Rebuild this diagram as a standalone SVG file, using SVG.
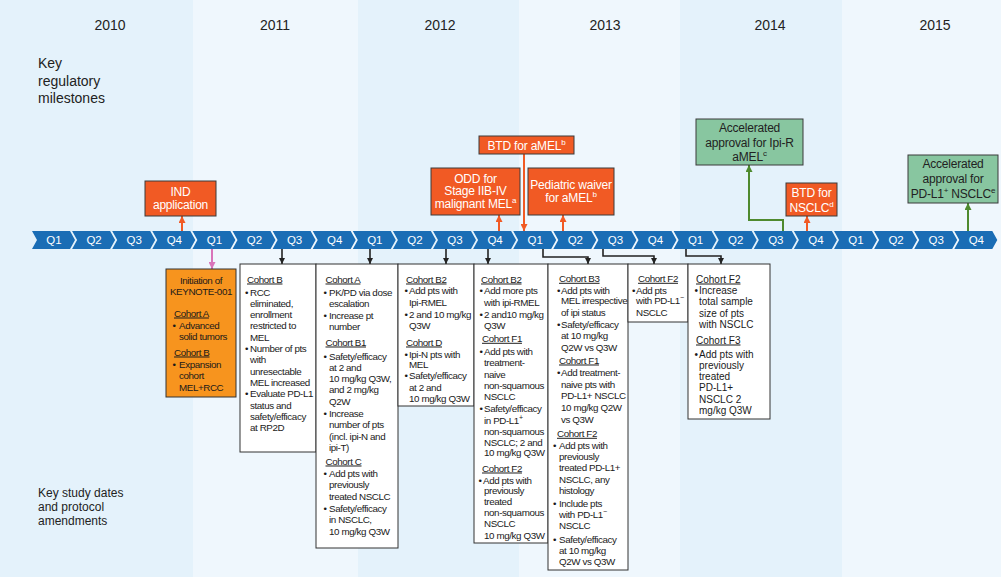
<svg xmlns="http://www.w3.org/2000/svg" width="1001" height="577" viewBox="0 0 1001 577">
<style>
.yr{font-family:"Liberation Sans",Arial,sans-serif;font-size:14px;fill:#222;text-anchor:middle}
.lbl{font-family:"Liberation Sans",Arial,sans-serif;fill:#222}
.q{font-family:"Liberation Sans",Arial,sans-serif;font-size:11.5px;fill:#fff;text-anchor:middle}
.t{font-family:"Liberation Sans",Arial,sans-serif;font-size:9.8px;letter-spacing:-0.4px;fill:#1a1a1a}
.t2{font-family:"Liberation Sans",Arial,sans-serif;font-size:10px;fill:#1a1a1a}
.u{text-decoration:underline}
.c{text-anchor:middle}
.box{fill:#fff;stroke:#333;stroke-width:1}
.ms{fill:#f15a24;stroke:#3a3a3a;stroke-width:1}
.gr{fill:#88c6a0;stroke:#3a3a3a;stroke-width:1}
.mt{font-family:"Liberation Sans",Arial,sans-serif;font-size:12px;letter-spacing:-0.2px;fill:#fff;text-anchor:middle}
.gt{font-family:"Liberation Sans",Arial,sans-serif;font-size:12px;letter-spacing:-0.2px;fill:#222;text-anchor:middle}
.chev{fill:#1a6db5}
.lo{stroke:#f15a24;stroke-width:2;fill:none}
.lg{stroke:#4e8a2e;stroke-width:2;fill:none}
.lk{stroke:#222;stroke-width:1.6;fill:none}
.lp{stroke:#d974b9;stroke-width:2;fill:none}
</style>
<defs>
<polygon id="chv" class="chev" points="0,0 38,0 43,9 38,18 0,18 5,9"/>
<marker id="mo" viewBox="0 0 10 10" refX="10" refY="5" markerWidth="7" markerHeight="7" markerUnits="userSpaceOnUse" orient="auto"><path d="M0,0 L10,5 L0,10 z" fill="#f15a24"/></marker>
<marker id="mg" viewBox="0 0 10 10" refX="10" refY="5" markerWidth="7" markerHeight="7" markerUnits="userSpaceOnUse" orient="auto"><path d="M0,0 L10,5 L0,10 z" fill="#4e8a2e"/></marker>
<marker id="mk" viewBox="0 0 10 10" refX="10" refY="5" markerWidth="6" markerHeight="6" markerUnits="userSpaceOnUse" orient="auto"><path d="M0,0 L10,5 L0,10 z" fill="#222"/></marker>
<marker id="mp" viewBox="0 0 10 10" refX="10" refY="5" markerWidth="7" markerHeight="7" markerUnits="userSpaceOnUse" orient="auto"><path d="M0,0 L10,5 L0,10 z" fill="#d974b9"/></marker>
</defs>

<g id="background">
<rect x="0" y="0" width="193" height="577" fill="#e4f2fb"/>
<rect x="193" y="0" width="165" height="577" fill="#eff7fd"/>
<rect x="358" y="0" width="161" height="577" fill="#e4f2fb"/>
<rect x="519" y="0" width="161" height="577" fill="#eff7fd"/>
<rect x="680" y="0" width="162" height="577" fill="#e4f2fb"/>
<rect x="842" y="0" width="159" height="577" fill="#eff7fd"/>
</g>

<g id="years">
<text class="yr" x="110" y="30">2010</text>
<text class="yr" x="275" y="30">2011</text>
<text class="yr" x="440" y="30">2012</text>
<text class="yr" x="605" y="30">2013</text>
<text class="yr" x="770" y="30">2014</text>
<text class="yr" x="935" y="30">2015</text>
</g>

<g id="side-labels">
<text class="lbl" font-size="14"><tspan x="38" y="68">Key</tspan><tspan x="38" y="86">regulatory</tspan><tspan x="38" y="103">milestones</tspan></text>
<text class="lbl" font-size="12"><tspan x="38" y="497">Key study dates</tspan><tspan x="38" y="511">and protocol</tspan><tspan x="38" y="525">amendments</tspan></text>
</g>

<g id="timeline">
<use href="#chv" x="32" y="231"/><use href="#chv" x="72.1" y="231"/><use href="#chv" x="112.2" y="231"/><use href="#chv" x="152.3" y="231"/>
<use href="#chv" x="192.4" y="231"/><use href="#chv" x="232.5" y="231"/><use href="#chv" x="272.6" y="231"/><use href="#chv" x="312.7" y="231"/>
<use href="#chv" x="352.8" y="231"/><use href="#chv" x="392.9" y="231"/><use href="#chv" x="433" y="231"/><use href="#chv" x="473.1" y="231"/>
<use href="#chv" x="513.2" y="231"/><use href="#chv" x="553.3" y="231"/><use href="#chv" x="593.4" y="231"/><use href="#chv" x="633.5" y="231"/>
<use href="#chv" x="673.6" y="231"/><use href="#chv" x="713.7" y="231"/><use href="#chv" x="753.8" y="231"/><use href="#chv" x="793.9" y="231"/>
<use href="#chv" x="834" y="231"/><use href="#chv" x="874.1" y="231"/><use href="#chv" x="914.2" y="231"/><use href="#chv" x="954.3" y="231"/>
<text class="q" x="54" y="244">Q1</text><text class="q" x="94.1" y="244">Q2</text><text class="q" x="134.2" y="244">Q3</text><text class="q" x="174.3" y="244">Q4</text>
<text class="q" x="214.4" y="244">Q1</text><text class="q" x="254.5" y="244">Q2</text><text class="q" x="294.6" y="244">Q3</text><text class="q" x="334.7" y="244">Q4</text>
<text class="q" x="374.8" y="244">Q1</text><text class="q" x="414.9" y="244">Q2</text><text class="q" x="455" y="244">Q3</text><text class="q" x="495.1" y="244">Q4</text>
<text class="q" x="535.2" y="244">Q1</text><text class="q" x="575.3" y="244">Q2</text><text class="q" x="615.4" y="244">Q3</text><text class="q" x="655.5" y="244">Q4</text>
<text class="q" x="695.6" y="244">Q1</text><text class="q" x="735.7" y="244">Q2</text><text class="q" x="775.8" y="244">Q3</text><text class="q" x="815.9" y="244">Q4</text>
<text class="q" x="856" y="244">Q1</text><text class="q" x="896.1" y="244">Q2</text><text class="q" x="936.2" y="244">Q3</text><text class="q" x="976.3" y="244">Q4</text>
</g>

<g id="connectors">
<path class="lo" d="M182,231 V216" marker-end="url(#mo)"/>
<path class="lo" d="M499,231 V215" marker-end="url(#mo)"/>
<path class="lo" d="M524,154 V231" marker-end="url(#mo)"/>
<path class="lo" d="M563,231 V215" marker-end="url(#mo)"/>
<path class="lo" d="M807,231 V216" marker-end="url(#mo)"/>
<path class="lg" d="M783,231 V220 H749 V165" marker-end="url(#mg)"/>
<path class="lg" d="M968,231 V203" marker-end="url(#mg)"/>
<path class="lp" d="M212,249 V269" marker-end="url(#mp)"/>
<path class="lk" d="M282,249 V264" marker-end="url(#mk)"/>
<path class="lk" d="M370,249 V264" marker-end="url(#mk)"/>
<path class="lk" d="M446,249 V264" marker-end="url(#mk)"/>
<path class="lk" d="M488,249 V264" marker-end="url(#mk)"/>
<path class="lk" d="M543,249 V257 H588 V264" marker-end="url(#mk)"/>
<path class="lk" d="M603,249 V256 H654 V264" marker-end="url(#mk)"/>
<path class="lk" d="M686,249 V256 H721 V264" marker-end="url(#mk)"/>
</g>

<g id="m-ind">
<rect class="ms" x="145" y="181" width="71" height="35"/>
<text class="mt"><tspan x="180.5" y="195.5">IND</tspan><tspan x="180.5" y="208.5">application</tspan></text>
</g>
<g id="m-odd">
<rect class="ms" x="431" y="168" width="89" height="47"/>
<text class="mt"><tspan x="475.5" y="182.5">ODD for</tspan><tspan x="475.5" y="195">Stage IIB-IV</tspan><tspan x="475.5" y="207.5">malignant MEL<tspan font-size="8" dy="-5">a</tspan></tspan></text>
</g>
<g id="m-btd-amel">
<rect class="ms" x="479" y="136" width="95" height="18"/>
<text class="mt"><tspan x="526.5" y="149.5">BTD for aMEL<tspan font-size="8" dy="-5">b</tspan></tspan></text>
</g>
<g id="m-pediatric">
<rect class="ms" x="528" y="168" width="86" height="47"/>
<text class="mt"><tspan x="571" y="188.5">Pediatric waiver</tspan><tspan x="571" y="201.5">for aMEL<tspan font-size="8" dy="-5">b</tspan></tspan></text>
</g>
<g id="m-aa-ipir">
<rect class="gr" x="696" y="119" width="107" height="46"/>
<text class="gt"><tspan x="749.5" y="131.5">Accelerated</tspan><tspan x="749.5" y="146.5">approval for Ipi-R</tspan><tspan x="749.5" y="161">aMEL<tspan font-size="8" dy="-5">c</tspan></tspan></text>
</g>
<g id="m-btd-nsclc">
<rect class="ms" x="786" y="183" width="51" height="33"/>
<text class="mt"><tspan x="811.5" y="196.5">BTD for</tspan><tspan x="811.5" y="211.5">NSCLC<tspan font-size="8" dy="-5">d</tspan></tspan></text>
</g>
<g id="m-aa-pdl1">
<rect class="gr" x="908" y="155" width="90" height="48"/>
<text class="gt"><tspan x="953" y="167.5">Accelerated</tspan><tspan x="953" y="182.5">approval for</tspan><tspan x="953" y="197.5">PD-L1<tspan font-size="8" dy="-5">+</tspan><tspan dy="5"> NSCLC</tspan><tspan font-size="8" dy="-5">e</tspan></tspan></text>
</g>

<g id="keynote">
<rect x="166" y="269" width="70" height="128" fill="#f7941e" stroke="#333"/>
<text class="t c"><tspan x="201" y="283.5">Initiation of</tspan><tspan x="201" y="294.8">KEYNOTE-001</tspan></text>
<text class="t u"><tspan x="174" y="316.5">Cohort A</tspan><tspan x="174" y="355.5">Cohort B</tspan></text>
<text class="t"><tspan x="172.5" y="328.5">•</tspan><tspan x="172.5" y="367.5">•</tspan></text>
<text class="t"><tspan x="179" y="328.5">Advanced</tspan><tspan x="179" y="340.3">solid tumors</tspan><tspan x="179" y="367.5">Expansion</tspan><tspan x="179" y="379">cohort</tspan><tspan x="179" y="390.5">MEL+RCC</tspan></text>
</g>

<g id="box-2011q3">
<rect class="box" x="240" y="264" width="76" height="188"/>
<text class="t u" x="247" y="282.5">Cohort B</text>
<text class="t"><tspan x="245" y="295.5">•</tspan><tspan x="245" y="352">•</tspan><tspan x="245" y="397.2">•</tspan></text>
<text class="t"><tspan x="250" y="295.5">RCC</tspan><tspan x="250" y="306.8">eliminated,</tspan><tspan x="250" y="318.1">enrollment</tspan><tspan x="250" y="329.4">restricted to</tspan><tspan x="250" y="340.7">MEL</tspan><tspan x="250" y="352">Number of pts</tspan><tspan x="250" y="363.3">with</tspan><tspan x="250" y="374.6">unresectable</tspan><tspan x="250" y="385.9">MEL increased</tspan><tspan x="250" y="397.2">Evaluate PD-L1</tspan><tspan x="250" y="408.5">status and</tspan><tspan x="250" y="419.8">safety/efficacy</tspan><tspan x="250" y="431.1">at RP2D</tspan></text>
</g>

<g id="box-2012q1">
<rect class="box" x="316" y="264" width="82" height="284"/>
<text class="t u"><tspan x="325.5" y="282.5">Cohort A</tspan><tspan x="325.5" y="345.5">Cohort B1</tspan><tspan x="325.5" y="464.5">Cohort C</tspan></text>
<text class="t"><tspan x="323.5" y="296">•</tspan><tspan x="323.5" y="319">•</tspan><tspan x="323.5" y="359.5">•</tspan><tspan x="323.5" y="417">•</tspan><tspan x="323.5" y="477">•</tspan><tspan x="323.5" y="512">•</tspan></text>
<text class="t"><tspan x="329" y="296">PK/PD via dose</tspan><tspan x="329" y="307.3">escalation</tspan><tspan x="329" y="319">Increase pt</tspan><tspan x="329" y="330.3">number</tspan><tspan x="329" y="359.5">Safety/efficacy</tspan><tspan x="329" y="370.8">at 2 and</tspan><tspan x="329" y="382.1">10 mg/kg Q3W,</tspan><tspan x="329" y="393.4">and 2 mg/kg</tspan><tspan x="329" y="404.7">Q2W</tspan><tspan x="329" y="417">Increase</tspan><tspan x="329" y="428.3">number of pts</tspan><tspan x="329" y="439.6">(incl. ipi-N and</tspan><tspan x="329" y="450.9">ipi-T)</tspan><tspan x="329" y="477">Add pts with</tspan><tspan x="329" y="488.3">previously</tspan><tspan x="329" y="499.6">treated NSCLC</tspan><tspan x="329" y="512">Safety/efficacy</tspan><tspan x="329" y="523.3">in NSCLC,</tspan><tspan x="329" y="534.6">10 mg/kg Q3W</tspan></text>
</g>

<g id="box-2012q3">
<rect class="box" x="398" y="264" width="76" height="142"/>
<text class="t u"><tspan x="406" y="282.5">Cohort B2</tspan><tspan x="406" y="345.5">Cohort D</tspan></text>
<text class="t"><tspan x="404.5" y="294.2">•</tspan><tspan x="404.5" y="317.5">•</tspan><tspan x="404.5" y="357.5">•</tspan><tspan x="404.5" y="378.5">•</tspan></text>
<text class="t"><tspan x="409" y="294.2">Add pts with</tspan><tspan x="409" y="305.5">Ipi-RMEL</tspan><tspan x="409" y="317.5">2 and 10 mg/kg</tspan><tspan x="409" y="328.5">Q3W</tspan><tspan x="409" y="357.5">Ipi-N pts with</tspan><tspan x="409" y="368">MEL</tspan><tspan x="409" y="378.5">Safety/efficacy</tspan><tspan x="409" y="390.5">at 2 and</tspan><tspan x="409" y="401.5">10 mg/kg Q3W</tspan></text>
</g>

<g id="box-2012q4">
<rect class="box" x="474" y="264" width="74" height="279"/>
<text class="t u"><tspan x="481" y="282.5">Cohort B2</tspan><tspan x="482" y="341.8">Cohort F1</tspan><tspan x="482" y="471.5">Cohort F2</tspan></text>
<text class="t"><tspan x="479.5" y="294.2">•</tspan><tspan x="479.5" y="317.5">•</tspan><tspan x="479.5" y="355.2">•</tspan><tspan x="479.5" y="412">•</tspan><tspan x="478.5" y="483.5">•</tspan></text>
<text class="t"><tspan x="484" y="294.2">Add more pts</tspan><tspan x="484" y="305.5">with ipi-RMEL</tspan><tspan x="484" y="317.5">2 and10 mg/kg</tspan><tspan x="484" y="328.5">Q3W</tspan><tspan x="484" y="355.2">Add pts with</tspan><tspan x="484" y="366.2">treatment-</tspan><tspan x="484" y="377.5">naive</tspan><tspan x="484" y="388.5">non-squamous</tspan><tspan x="484" y="400.2">NSCLC</tspan><tspan x="484" y="412">Safety/efficacy</tspan><tspan x="484" y="423.5">in PD-L1<tspan font-size="7" dy="-4">+</tspan></tspan><tspan x="484" y="434.5">non-squamous</tspan><tspan x="484" y="445.5">NSCLC; 2 and</tspan><tspan x="484" y="456.2">10 mg/kg Q3W</tspan><tspan x="483" y="483.5">Add pts with</tspan><tspan x="484" y="494.2">previously</tspan><tspan x="484" y="505.2">treated</tspan><tspan x="484" y="516.2">non-squamous</tspan><tspan x="484" y="526.8">NSCLC</tspan><tspan x="484" y="538.5">10 mg/kg Q3W</tspan></text>
</g>

<g id="box-2013q1">
<rect class="box" x="548" y="264" width="80" height="306"/>
<text class="t u"><tspan x="559" y="281.8">Cohort B3</tspan><tspan x="559" y="363.5">Cohort F1</tspan><tspan x="557" y="436.8">Cohort F2</tspan></text>
<text class="t"><tspan x="557" y="293.5">•</tspan><tspan x="557" y="327.5">•</tspan><tspan x="557" y="376.2">•</tspan><tspan x="553" y="449.2">•</tspan><tspan x="553" y="506.8">•</tspan><tspan x="553" y="542.8">•</tspan></text>
<text class="t"><tspan x="561" y="293.5">Add pts with</tspan><tspan x="561" y="304.2">MEL irrespective</tspan><tspan x="561" y="315.8">of ipi status</tspan><tspan x="561" y="327.5">Safety/efficacy</tspan><tspan x="561" y="339.2">at 10 mg/kg</tspan><tspan x="561" y="350.8">Q2W vs Q3W</tspan><tspan x="561" y="376.2">Add treatment-</tspan><tspan x="561" y="387.5">naive pts with</tspan><tspan x="561" y="398.5">PD-L1+ NSCLC</tspan><tspan x="561" y="410.5">10 mg/kg Q2W</tspan><tspan x="561" y="422.8">vs Q3W</tspan><tspan x="559" y="449.2">Add pts with</tspan><tspan x="559" y="460.2">previously</tspan><tspan x="559" y="471.2">treated PD-L1+</tspan><tspan x="559" y="482.5">NSCLC, any</tspan><tspan x="559" y="493.5">histology</tspan><tspan x="559" y="506.8">Include pts</tspan><tspan x="559" y="517.5">with PD-L1<tspan font-size="7" dy="-4">−</tspan></tspan><tspan x="559" y="528.5">NSCLC</tspan><tspan x="559" y="542.8">Safety/efficacy</tspan><tspan x="559" y="553.5">at 10 mg/kg</tspan><tspan x="559" y="564.5">Q2W vs Q3W</tspan></text>
</g>

<g id="box-2013q3">
<rect class="box" x="628" y="264" width="60" height="58"/>
<text class="t u c" x="658" y="281.8">Cohort F2</text>
<text class="t" x="632" y="293.5">•</text>
<text class="t"><tspan x="636" y="293.5">Add pts</tspan><tspan x="636" y="304.2">with PD-L1<tspan font-size="7" dy="-4">−</tspan></tspan><tspan x="636" y="315.8">NSCLC</tspan></text>
</g>

<g id="box-2014q1">
<rect class="box" x="688" y="264" width="82" height="155"/>
<text class="t2 u"><tspan x="696" y="282.5">Cohort F2</tspan><tspan x="696" y="343.5">Cohort F3</tspan></text>
<text class="t2"><tspan x="694.5" y="294.2">•</tspan><tspan x="694.5" y="357.8">•</tspan></text>
<text class="t2"><tspan x="699" y="294.2">Increase</tspan><tspan x="699" y="305.2">total sample</tspan><tspan x="699" y="316.8">size of pts</tspan><tspan x="699" y="327.8">with NSCLC</tspan><tspan x="699" y="357.8">Add pts with</tspan><tspan x="699" y="368.5">previously</tspan><tspan x="699" y="380.2">treated</tspan><tspan x="699" y="391.2">PD-L1+</tspan><tspan x="699" y="402.5">NSCLC 2</tspan><tspan x="699" y="413.5">mg/kg Q3W</tspan></text>
</g>
</svg>
